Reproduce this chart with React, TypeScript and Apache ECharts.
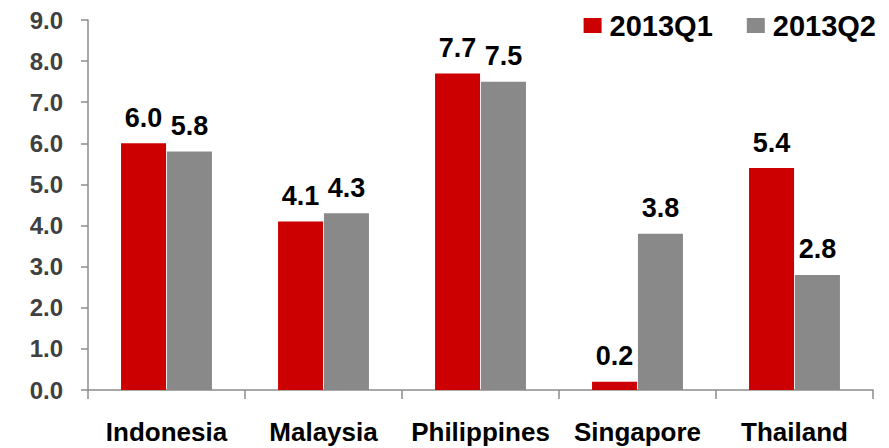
import React, { useEffect, useRef } from "react";
import * as echarts from "echarts";

const categories = ["Indonesia", "Malaysia", "Philippines", "Singapore", "Thailand"];
const seriesNames = ["2013Q1", "2013Q2"];
const q1Values = [6.0, 4.1, 7.7, 0.2, 5.4];
const q2Values = [5.8, 4.3, 7.5, 3.8, 2.8];
const colors = ["#CC0000", "#898989"];
const FONT = "'Liberation Sans', Arial, sans-serif";

export default function App() {
  const ref = useRef<HTMLDivElement>(null);
  useEffect(() => {
    if (!ref.current) return;
    const chart = echarts.init(ref.current, undefined, { renderer: "svg" });
    const label = {
      show: true,
      position: "top" as const,
      distance: 12,
      fontSize: 27,
      fontWeight: "bold" as const,
      fontFamily: FONT,
      color: "#000",
      formatter: (p: any) => Number(p.value).toFixed(1),
    };
    chart.setOption({
      animation: false,
      legend: {
        top: 6,
        right: 8,
        itemWidth: 18,
        itemHeight: 15,
        itemGap: 34,
        icon: "rect",
        textStyle: { fontSize: 29, fontWeight: "bold", fontFamily: FONT, color: "#000", padding: [0, 0, 0, 3] },
        data: seriesNames,
      },
      grid: { left: 88, right: 16, top: 20, bottom: 58, containLabel: false },
      xAxis: {
        type: "category",
        data: categories,
        axisLine: { lineStyle: { color: "#8c8c8c", width: 1.5 } },
        axisTick: { show: true, length: 9, lineStyle: { color: "#8c8c8c", width: 1.5 } },
        axisLabel: { margin: 29, fontSize: 26, fontWeight: "bold", fontFamily: FONT, color: "#000", interval: 0 },
      },
      yAxis: {
        type: "value",
        min: 0,
        max: 9,
        interval: 1,
        splitLine: { show: false },
        axisLine: { show: true, lineStyle: { color: "#8c8c8c", width: 1.5 } },
        axisTick: { show: true, length: 7, lineStyle: { color: "#8c8c8c", width: 1.5 } },
        axisLabel: {
          margin: 25,
          fontSize: 24,
          fontWeight: "bold",
          fontFamily: FONT,
          color: "#404040",
          formatter: (v: number) => v.toFixed(1),
        },
      },
      series: [
        {
          name: seriesNames[0],
          type: "bar",
          data: q1Values,
          barWidth: 45,
          barGap: "2%",
          itemStyle: { color: colors[0] },
          label,
        },
        {
          name: seriesNames[1],
          type: "bar",
          data: q2Values,
          barWidth: 45,
          barGap: "2%",
          itemStyle: { color: colors[1] },
          label,
        },
      ],
    });
    return () => chart.dispose();
  }, []);
  return <div ref={ref} style={{ width: 889, height: 448, position: "absolute", left: 0, top: 0 }} />;
}
